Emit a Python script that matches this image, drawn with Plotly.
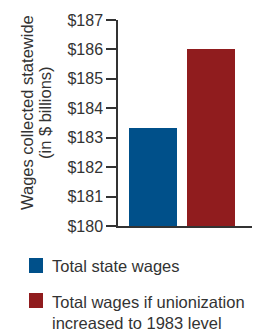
import plotly.graph_objects as go

categories = ["Total state wages", "Total wages if unionization<br>increased to 1983 level"]
values = [183.33, 186.02]
colors = ["#00508a", "#901c1e"]
tick_vals = [180, 181, 182, 183, 184, 185, 186, 187]
tick_text = ["$" + str(v) for v in tick_vals]
title_lines = ["Wages collected statewide", "(in $ billions)"]

FONT = "Liberation Sans, Arial, sans-serif"
TXT = "#333333"

# plot area in pixels: x 118..252, y 20..226
L, R, T, B = 118, 252, 20, 226
W, H = R - L, B - T


def px(x):
    return (x - L) / W


def py(y):
    return (B - y) / H


fig = go.Figure()
for i, (c, v, col) in enumerate(zip(categories, values, colors)):
    fig.add_trace(go.Bar(x=[i], y=[v - 180], base=180, name=c, marker_color=col,
                         marker_line_width=0, width=0.83, showlegend=False))

# manual legend
leg_sq_top = [258, 293]
leg_txt_center = [266, 312]
for c, col, st, tc in zip(categories, colors, leg_sq_top, leg_txt_center):
    fig.add_shape(type="rect", xref="paper", yref="paper",
                  x0=px(29), x1=px(43), y0=py(st + 15), y1=py(st),
                  fillcolor=col, line_width=0)
    fig.add_annotation(xref="paper", yref="paper", x=px(50), y=py(tc),
                       xanchor="left", yanchor="middle", text=c, showarrow=False,
                       align="left", font=dict(size=16.5, color=TXT, family=FONT))

# axis title lines
for line, xc in zip(title_lines, [27, 45]):
    fig.add_annotation(xref="paper", yref="paper", x=px(xc), y=py(113),
                       xanchor="center", yanchor="middle", text=line, showarrow=False,
                       textangle=-90, font=dict(size=16.5, color=TXT, family=FONT))

fig.update_layout(
    width=258, height=332,
    margin=dict(l=L, r=258 - R, t=T, b=332 - B, autoexpand=False),
    paper_bgcolor="white", plot_bgcolor="white",
    font=dict(family=FONT, size=16, color=TXT),
    showlegend=False,
    bargap=0,
)
fig.update_xaxes(range=[-0.603, 1.707], showticklabels=False, ticks="",
                 showline=True, linecolor=TXT, linewidth=1.5, showgrid=False,
                 zeroline=False, fixedrange=True, automargin=False)
fig.update_yaxes(range=[180, 187], tickvals=tick_vals, ticktext=tick_text,
                 ticks="outside", ticklen=10, tickcolor=TXT, tickwidth=1.5,
                 showline=True, linecolor=TXT, linewidth=1.5, showgrid=False,
                 zeroline=False, tickfont=dict(size=16, color=TXT), automargin=False)

fig.write_html("out.html", config={"displayModeBar": False},
               post_script="document.body.style.margin='0';document.body.style.overflow='hidden';")
